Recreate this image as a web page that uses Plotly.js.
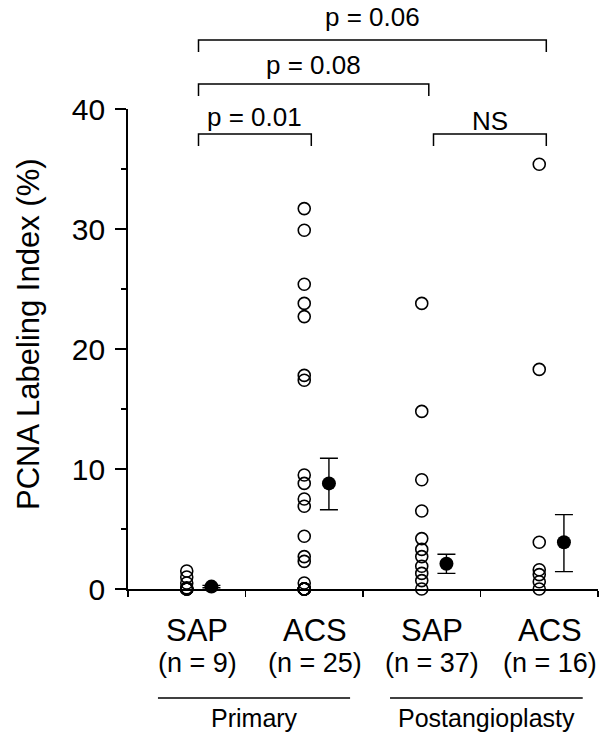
<!DOCTYPE html>
<html><head><meta charset="utf-8">
<script src="https://cdn.plot.ly/plotly-3.0.1.min.js"></script>
<style>body{margin:0;background:#fff}#chart{width:604px;height:736px}</style>
</head><body><div id="chart"></div>
<script>
// ---- data ----
const groupNames = ["SAP", "ACS", "SAP", "ACS"];
const groupN = ["(n = 9)", "(n = 25)", "(n = 37)", "(n = 16)"];
const sapPrimary = [1.5, 1.0, 0.5, 0.1, 0, 0, 0, 0, 0];
const acsPrimary = [31.7, 29.9, 25.4, 23.8, 22.7, 17.8, 17.4, 9.5, 8.8, 7.5, 6.9, 4.4, 2.7, 2.3, 0.5, 0, 0, 0, 0, 0, 0, 0, 0, 0, 0];
const sapPost = [23.8, 14.8, 9.1, 6.5, 4.2, 3.3, 2.7, 1.9, 1.3, 0.7, 0];
const acsPost = [35.4, 18.3, 3.9, 1.6, 1.2, 0.6, 0];
const meanValues = [0.2, 8.8, 2.1, 3.9];
const errUp = [0.1, 2.1, 0.8, 2.3];
const errDown = [0.1, 2.2, 0.8, 2.45];
const yTickVals = [0, 10, 20, 30, 40];
const periodLabels = ["Primary", "Postangioplasty"];
const compFrom = [0, 0, 0, 2];
const compTo = [1, 2, 3, 3];
const compLabels = ["p = 0.01", "p = 0.08", "p = 0.06", "NS"];

// ---- layout helpers ----
const plotTop = 109, plotBottom = 589, plotH = plotBottom - plotTop;
const py = px => (plotBottom - px) / plotH;   // pixel row -> paper y
const centers = groupNames.map((_, i) => i + 0.5);
const series = [sapPrimary, acsPrimary, sapPost, acsPost];

const traces = [];
series.forEach((vals, i) => {
  traces.push({
    type: 'scatter', mode: 'markers',
    x: vals.map(() => centers[i]), y: vals,
    marker: {symbol: 'circle-open', size: 12, color: '#000', line: {width: 1.6, color: '#000'}},
    cliponaxis: false, showlegend: false, hoverinfo: 'y'
  });
});
traces.push({
  type: 'scatter', mode: 'markers',
  x: centers.map(c => c + 0.21), y: meanValues,
  error_y: {type: 'data', symmetric: false, array: errUp, arrayminus: errDown,
            color: '#000', thickness: 1.4, width: 9},
  marker: {symbol: 'circle', size: 14, color: '#000'},
  cliponaxis: false, showlegend: false
});

const FONT = 'Liberation Sans, Arial, Helvetica, sans-serif';
const annotations = [];
const shapes = [];

// category labels
groupNames.forEach((g, i) => {
  annotations.push({xref: 'x', yref: 'paper', x: centers[i] + 0.09, y: py(630),
    text: g, showarrow: false, xanchor: 'center', yanchor: 'middle',
    font: {family: FONT, size: 31, color: '#000'}});
  annotations.push({xref: 'x', yref: 'paper', x: centers[i] + 0.09, y: py(663),
    text: groupN[i], showarrow: false, xanchor: 'center', yanchor: 'middle',
    font: {family: FONT, size: 27, color: '#000'}});
});

// period underlines and labels
const periodSpans = [[0.255, 1.89], [2.23, 3.87]];
periodLabels.forEach((lab, i) => {
  const [a, b] = periodSpans[i];
  shapes.push({type: 'line', xref: 'x', yref: 'paper', x0: a, x1: b, y0: py(698), y1: py(698),
    line: {color: '#000', width: 1.3}});
  annotations.push({xref: 'x', yref: 'paper', x: (a + b) / 2, y: py(718),
    text: lab, showarrow: false, xanchor: 'center', yanchor: 'middle',
    font: {family: FONT, size: 25, color: '#000'}});
});

// comparison brackets
const bracketY = [134, 84, 40, 134];
const textY = [117, 65, 17, 121];
compLabels.forEach((lab, i) => {
  const x0 = centers[compFrom[i]] + 0.1;
  const x1 = centers[compTo[i]] + 0.06;
  const yb = py(bracketY[i]), yd = py(bracketY[i] + 12);
  shapes.push({type: 'path', xref: 'x', yref: 'paper',
    path: `M ${x0} ${yd} L ${x0} ${yb} L ${x1} ${yb} L ${x1} ${yd}`,
    line: {color: '#000', width: 1.5}});
  annotations.push({xref: 'x', yref: 'paper', x: (x0 + x1) / 2, y: py(textY[i]),
    text: lab, showarrow: false, xanchor: 'center', yanchor: 'middle',
    font: {family: FONT, size: 26, color: '#000'}});
});

// y axis title
annotations.push({xref: 'paper', yref: 'paper', x: (28 - 128) / 470, y: py(334),
  text: 'PCNA Labeling Index (%)', textangle: -90, showarrow: false,
  xanchor: 'center', yanchor: 'middle', font: {family: FONT, size: 31, color: '#000'}});

const layout = {
  width: 604, height: 736,
  margin: {l: 128, r: 6, t: plotTop, b: 736 - plotBottom, pad: 0},
  paper_bgcolor: '#fff', plot_bgcolor: '#fff',
  font: {family: FONT, color: '#000'},
  showlegend: false,
  xaxis: {range: [0, 4], tickvals: [0, 1, 2, 3, 4], showticklabels: false,
    ticks: 'outside', ticklen: 6, tickwidth: 1.5, tickcolor: '#000',
    showline: true, linecolor: '#000', linewidth: 1.8, showgrid: false, zeroline: false, fixedrange: true},
  yaxis: {range: [0, 40], tickvals: yTickVals, ticks: 'outside', ticklen: 11, tickwidth: 1.5,
    tickcolor: '#000', showline: true, linecolor: '#000', linewidth: 1.8,
    showgrid: false, zeroline: false, ticklabelstandoff: 4,
    tickfont: {family: FONT, size: 30, color: '#000'},
    minor: {dtick: 5, ticks: 'outside', ticklen: 5, tickwidth: 1.3, tickcolor: '#000', showgrid: false},
    fixedrange: true},
  shapes: shapes,
  annotations: annotations
};

Plotly.newPlot('chart', traces, layout, {displayModeBar: false, staticPlot: true});
</script>
</body></html>
